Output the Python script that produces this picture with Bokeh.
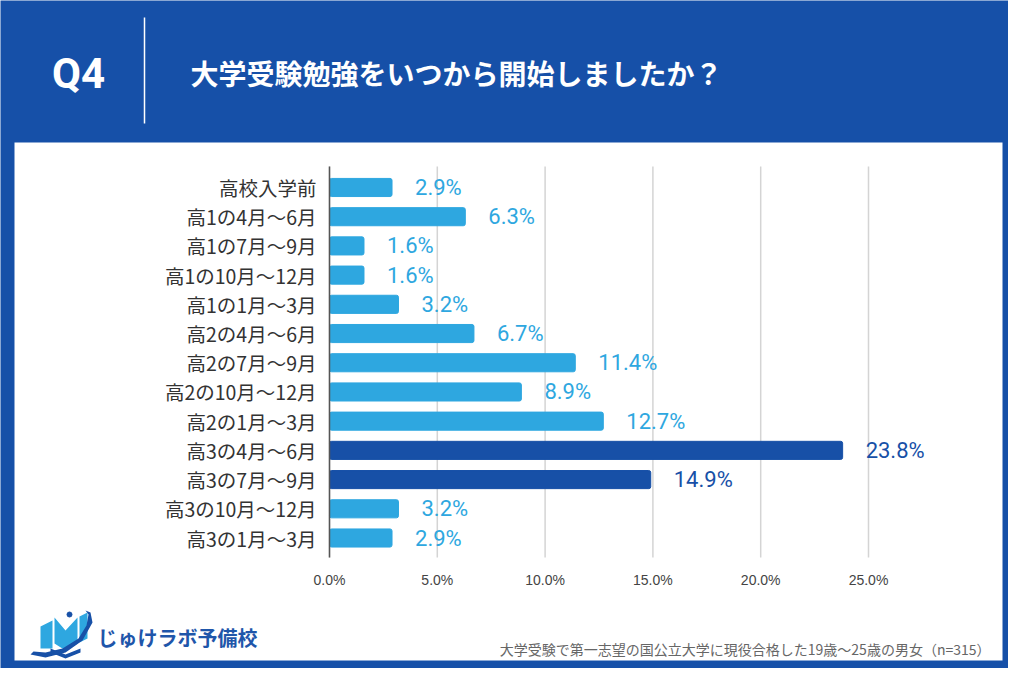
from bokeh.plotting import figure
from bokeh.models import (ColumnDataSource, Range1d, FixedTicker, PrintfTickFormatter, LabelSet)
from bokeh.core.properties import value
from bokeh.embed import file_html
from bokeh.resources import INLINE

# ---------------- data ----------------
categories = ["高校入学前", "高1の4月～6月", "高1の7月～9月", "高1の10月～12月", "高1の1月～3月",
              "高2の4月～6月", "高2の7月～9月", "高2の10月～12月", "高2の1月～3月",
              "高3の4月～6月", "高3の7月～9月", "高3の10月～12月", "高3の1月～3月"]
percentages = [2.9, 6.3, 1.6, 1.6, 3.2, 6.7, 11.4, 8.9, 12.7, 23.8, 14.9, 3.2, 2.9]
highlighted = [False, False, False, False, False, False, False, False, False, True, True, False, False]
x_ticks = [0, 5, 10, 15, 20, 25]
question = "Q4"
title_text = "大学受験勉強をいつから開始しましたか？"
footnote = "大学受験で第一志望の国公立大学に現役合格した19歳～25歳の男女（n=315）"
brand = "じゅけラボ予備校"

# ---------------- style / geometry ----------------
BG_BLUE = "#1650a8"
LIGHT = "#2ea7e0"
DARK = "#1750a7"
CJK = "Noto Sans CJK JP"
CW, CH = 1008, 668      # canvas size
PX_X = 21.56            # pixels per percentage point
PX_Y = 29.21            # pixels per category step
X0_PX = 329             # canvas x of 0 %
Y0_PX = 537.5           # canvas y of the last category


def dx(px):
    """canvas pixel x -> data x"""
    return (px - X0_PX) / PX_X


def dy(py):
    """canvas pixel y -> data y"""
    return (Y0_PX - py) / PX_Y


n = len(categories)
ypos = [n - 1 - i for i in range(n)]
colors = [DARK if h else LIGHT for h in highlighted]
labels = [f"{v:.1f}%" for v in percentages]
src = ColumnDataSource(dict(y=ypos, pct=percentages, label=labels, color=colors))

p = figure(width=CW, height=CH,
           x_range=Range1d(dx(0), dx(CW)), y_range=Range1d(dy(CH), dy(0)),
           min_border=0, output_backend="svg", toolbar_location=None)
p.border_fill_color = BG_BLUE
p.background_fill_color = BG_BLUE
p.outline_line_color = None
p.xgrid.grid_line_color = None
p.ygrid.grid_line_color = None

PLOT_TOP, PLOT_BOTTOM = dy(166), dy(557)

# white panel
p.quad(left=[dx(14)], right=[dx(1002)], top=[dy(142)], bottom=[dy(660)],
       fill_color="white", line_color=None)

# vertical grid lines inside the plot area
p.segment(x0=x_ticks, x1=x_ticks, y0=[PLOT_BOTTOM] * len(x_ticks), y1=[PLOT_TOP] * len(x_ticks),
          line_color="#d4d4d4", line_width=1.5)

# bars + value labels
p.hbar(y="y", right="pct", left=0, height=0.62, color="color", source=src, border_radius=2)
p.add_layout(LabelSet(x="pct", y="y", text="label", source=src, x_offset=23,
                      text_baseline="middle", text_color="color",
                      text_font=value("Roboto"), text_font_size="22px"))

# axes drawn at fixed data locations
p.xaxis.fixed_location = PLOT_BOTTOM
p.xaxis.bounds = (0, 25)
p.xaxis.ticker = FixedTicker(ticks=x_ticks)
p.xaxis.formatter = PrintfTickFormatter(format="%.1f%%")
p.xaxis.axis_line_color = None
p.xaxis.major_tick_line_color = None
p.xaxis.minor_tick_line_color = None
p.xaxis.major_tick_out = 0
p.xaxis.major_tick_in = 0
p.xaxis.major_label_standoff = 14
p.xaxis.major_label_text_font = "'Liberation Sans', Arial, sans-serif"
p.xaxis.major_label_text_font_size = "14px"
p.xaxis.major_label_text_color = "#444444"

p.yaxis.fixed_location = 0
p.yaxis.bounds = (PLOT_BOTTOM, PLOT_TOP)
p.yaxis.ticker = FixedTicker(ticks=ypos)
p.yaxis.major_label_overrides = {y: c for y, c in zip(ypos, categories)}
p.yaxis.axis_line_color = "#555555"
p.yaxis.axis_line_width = 1.5
p.yaxis.major_tick_line_color = None
p.yaxis.minor_tick_line_color = None
p.yaxis.major_tick_out = 0
p.yaxis.major_tick_in = 0
p.yaxis.major_label_standoff = 13
p.yaxis.major_label_text_font = CJK
p.yaxis.major_label_text_font_size = "19.5px"
p.yaxis.major_label_text_color = "#333333"

# header
p.text(x=[dx(78)], y=[dy(73)], text=[question], text_align="center", text_baseline="middle",
       text_color="white", text_font=value("Roboto"), text_font_style="bold",
       text_font_size="42px")
p.segment(x0=[dx(144)], y0=[dy(17)], x1=[dx(144)], y1=[dy(123)], line_color="white", line_width=1.5)
p.text(x=[dx(190)], y=[dy(72)], text=[title_text], text_align="left", text_baseline="middle",
       text_color="white", text_font=value(CJK), text_font_style="bold",
       text_font_size="28px")

# footer
p.text(x=[dx(990)], y=[dy(648)], text=[footnote], text_align="right", text_baseline="middle",
       text_color="#666666", text_font=value(CJK), text_font_size="14px")
p.text(x=[dx(97)], y=[dy(637)], text=[brand], text_align="left", text_baseline="middle",
       text_color="#1f56aa", text_font=value(CJK), text_font_style="bold",
       text_font_size="20px")

# logo icon (approximate shapes, canvas pixels)
logo_light = [
    ([40, 52, 52, 40], [626, 620, 648, 648]),
    ([54, 65, 77, 77, 65, 54], [617, 630, 617, 643, 650, 643]),
    ([79, 87, 87, 79], [616, 612, 638, 642]),
]
logo_dark = [
    ([50, 65, 80, 80, 65, 50], [648, 654, 648, 652, 658, 652]),
    ([30, 45, 65, 82, 92, 90, 85, 88, 86, 78, 62, 45, 33],
     [654, 657, 652, 640, 622, 612, 610, 614, 625, 638, 648, 652, 651]),
]
p.patches(xs=[[dx(v) for v in a] for a, _ in logo_light],
          ys=[[dy(v) for v in b] for _, b in logo_light],
          fill_color=LIGHT, line_color=None)
p.patches(xs=[[dx(v) for v in a] for a, _ in logo_dark],
          ys=[[dy(v) for v in b] for _, b in logo_dark],
          fill_color=DARK, line_color=None)
p.scatter(x=[dx(69)], y=[dy(614)], size=5, color=DARK)

open("out.html", "w").write(file_html(p, INLINE))
